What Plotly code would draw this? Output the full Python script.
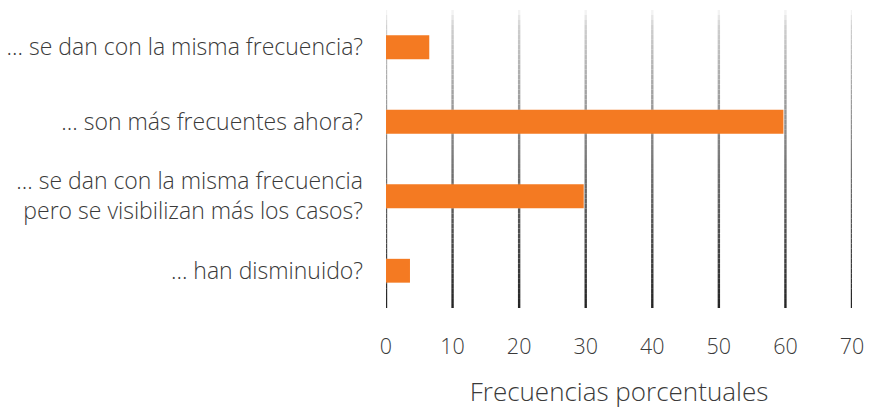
import plotly.graph_objects as go

categories = [
    "... han disminuido?",
    "... se dan con la misma frecuencia<br>pero se visibilizan más los casos?",
    "... son más frecuentes ahora?",
    "... se dan con la misma frecuencia?",
]
values = [3.6, 29.7, 59.7, 6.5]
x_ticks = [0, 10, 20, 30, 40, 50, 60, 70]

fig = go.Figure(go.Bar(
    x=values, y=categories, orientation="h",
    marker=dict(color="#F47A22", line=dict(width=0)),
    hoverinfo="x+y",
))

# gradient gridlines (light at top, dark at bottom)
N = 60
shapes = []
def grad_color(t):
    # t: 0 at top, 1 at bottom
    if t < 0.05:
        c = 250 - (250 - 210) * (t / 0.05)
    else:
        c = 210 - (210 - 35) * ((t - 0.05) / 0.95) ** 0.9
    c = int(round(c))
    return f"rgb({c},{c},{c})"
for xv in x_ticks:
    for i in range(N):
        y0 = 1 - i / N
        y1 = 1 - (i + 1) / N
        shapes.append(dict(type="line", xref="x", yref="paper",
                           x0=xv, x1=xv, y0=y0, y1=y1,
                           line=dict(color=grad_color((i + 0.5) / N), width=2.4),
                           layer="below"))

fig.update_layout(
    width=871, height=409,
    margin=dict(l=386, r=19, t=10, b=101),
    paper_bgcolor="white", plot_bgcolor="white",
    font=dict(family="Open Sans, Noto Sans, sans-serif", color="#3a3a3a", weight=300),
    bargap=0.68,
    showlegend=False,
    shapes=shapes,
    xaxis=dict(
        range=[0, 70], tickvals=x_ticks, showgrid=False, zeroline=False,
        showline=False, ticks="", tickfont=dict(size=21.5, color="#3a3a3a", weight=300),
        ticklabelstandoff=23, automargin=False,
        title=dict(text="Frecuencias porcentuales", font=dict(size=26, color="#3a3a3a", weight=300), standoff=24),
    ),
    yaxis=dict(
        showgrid=False, zeroline=False, showline=False, ticks="",
        tickfont=dict(size=23, color="#3a3a3a", weight=300), ticklabelstandoff=22,
        automargin=False,
    ),
)

fig.write_html("out.html")
